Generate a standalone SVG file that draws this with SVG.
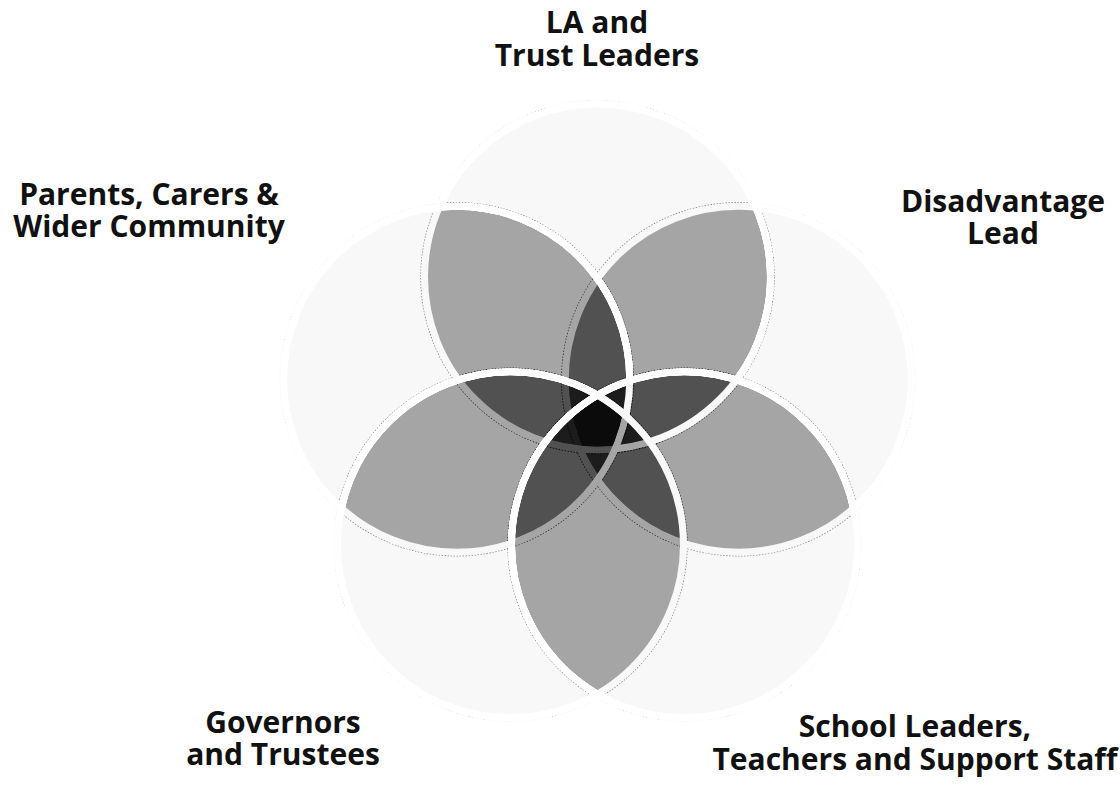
<svg xmlns="http://www.w3.org/2000/svg" width="1120" height="785" viewBox="0 0 1120 785">
  <style>
    .lbl { font-family: "Open Sans", "Noto Sans", "Liberation Sans", sans-serif; font-weight: 700; font-size: 30px; fill: #111; }
    .set { fill: #000; fill-opacity: 0.25; stroke: #fff; stroke-width: 7; }
    .edge { fill: none; stroke: #a8a8a8; stroke-width: 1.2; stroke-dasharray: 1.5 1.5; }
  </style>
  <defs>
    <filter id="tone" x="0" y="0" width="1120" height="785" filterUnits="userSpaceOnUse" color-interpolation-filters="sRGB">
      <feComponentTransfer>
        <feFuncR type="table" tableValues="0 0.008 0.016 0.025 0.033 0.0496 0.0876 0.17 0.274 0.388 0.509 0.63 0.723 0.807 0.891 0.975 0.98 0.985 0.99 0.995 1"/>
        <feFuncG type="table" tableValues="0 0.008 0.016 0.025 0.033 0.0496 0.0876 0.17 0.274 0.388 0.509 0.63 0.723 0.807 0.891 0.975 0.98 0.985 0.99 0.995 1"/>
        <feFuncB type="table" tableValues="0 0.008 0.016 0.025 0.033 0.0496 0.0876 0.17 0.274 0.388 0.509 0.63 0.723 0.807 0.891 0.975 0.98 0.985 0.99 0.995 1"/>
      </feComponentTransfer>
    </filter>
  </defs>
  <rect width="1120" height="785" fill="#fff"/>
  <g id="venn" filter="url(#tone)">
    <rect x="250" y="80" width="700" height="670" fill="#fff"/>
    <g id="outlines">
      <circle class="edge" cx="738.26" cy="379.27" r="176.6"/>
      <circle class="edge" cx="597.5" cy="277" r="176.6"/>
      <circle class="edge" cx="456.74" cy="379.27" r="176.6"/>
      <circle class="edge" cx="510.51" cy="544.73" r="176.6"/>
      <circle class="edge" cx="684.49" cy="544.73" r="176.6"/>
    </g>
    <g id="set-disadvantage"><circle class="set" cx="738.26" cy="379.27" r="173"/></g>
    <g id="set-la-trust"><circle class="set" cx="597.5" cy="277" r="173"/></g>
    <g id="set-parents"><circle class="set" cx="456.74" cy="379.27" r="173"/></g>
    <g id="set-governors"><circle class="set" cx="510.51" cy="544.73" r="173"/></g>
    <g id="set-school"><circle class="set" cx="684.49" cy="544.73" r="173"/></g>
  </g>
  <g id="label-la-trust">
    <text class="lbl" text-anchor="middle"><tspan x="597" y="33">LA and</tspan><tspan x="597" y="66">Trust Leaders</tspan></text>
  </g>
  <g id="label-parents">
    <text class="lbl" text-anchor="middle"><tspan x="149" y="205">Parents, Carers &amp;</tspan><tspan x="149" y="237">Wider Community</tspan></text>
  </g>
  <g id="label-disadvantage">
    <text class="lbl" text-anchor="middle"><tspan x="1003" y="212">Disadvantage</tspan><tspan x="1003" y="244">Lead</tspan></text>
  </g>
  <g id="label-governors">
    <text class="lbl" text-anchor="middle"><tspan x="283" y="733">Governors</tspan><tspan x="283" y="765">and Trustees</tspan></text>
  </g>
  <g id="label-school">
    <text class="lbl" text-anchor="middle"><tspan x="915" y="737">School Leaders,</tspan><tspan x="915" y="770">Teachers and Support Staff</tspan></text>
  </g>
</svg>
